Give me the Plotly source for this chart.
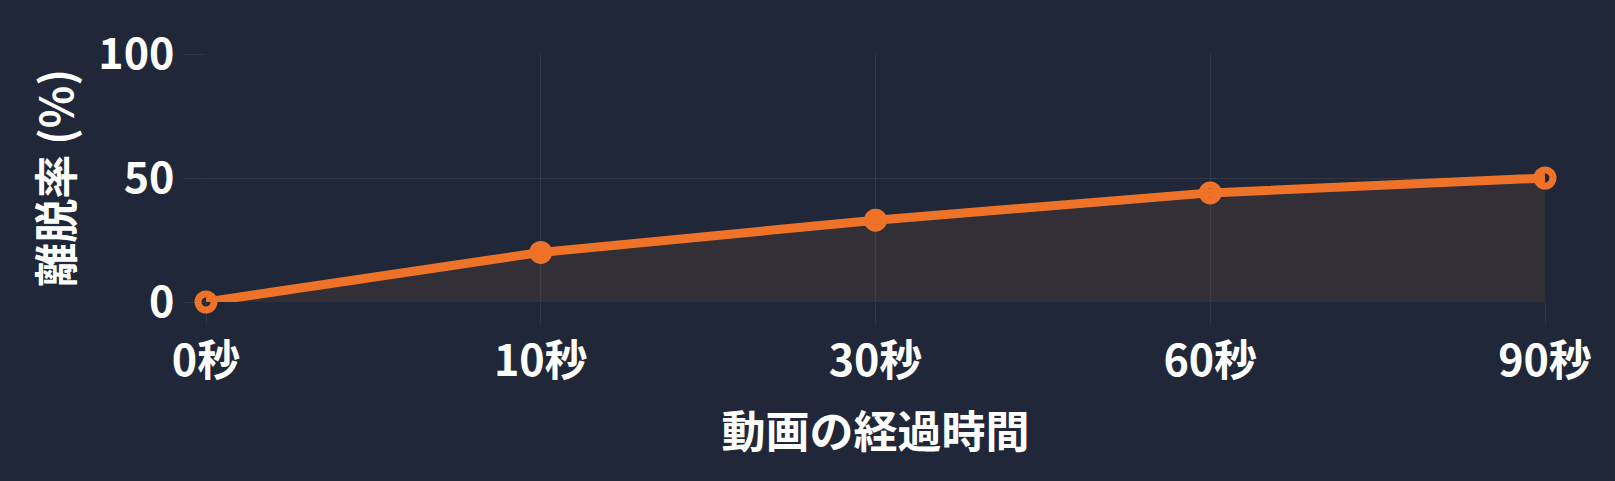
import plotly.graph_objects as go

categories = ["0秒", "10秒", "30秒", "60秒", "90秒"]
dropout_rate = [0, 20, 33, 44, 50]
y_ticks = [0, 50, 100]

ORANGE = "#EE7328"
BG = "#1F2738"
GRID = "rgba(255,255,255,0.08)"
FONT = "Noto Sans CJK JP"
W = "bold"

fig = go.Figure()
fig.add_trace(go.Scatter(
    x=categories, y=dropout_rate,
    mode="lines+markers",
    line=dict(color=ORANGE, width=9),
    marker=dict(symbol="circle-open", size=16, color=ORANGE, line=dict(width=7, color=ORANGE)),
    fill="tozeroy", fillcolor="rgba(238,115,40,0.10)",
    cliponaxis=False,
    showlegend=False,
))

fig.update_layout(
    width=1615, height=481,
    paper_bgcolor=BG, plot_bgcolor=BG,
    margin=dict(l=206, r=70, t=54, b=179),
    font=dict(family=FONT, color="#FFFFFF", size=44),
    xaxis=dict(
        type="category", range=[0, 4],
        showgrid=True, gridcolor=GRID, gridwidth=1,
        ticks="outside", ticklen=21, tickcolor=GRID, tickwidth=1,
        tickfont=dict(size=43, family=FONT, weight=W),
        showline=False, zeroline=False,
        title=dict(text="動画の経過時間", font=dict(size=44, family=FONT, weight=W), standoff=30),
    ),
    yaxis=dict(
        range=[0, 100], tickvals=y_ticks,
        showgrid=True, gridcolor=GRID, gridwidth=1,
        ticks="outside", ticklen=21, tickcolor=GRID, tickwidth=1,
        ticklabelstandoff=1,
        tickfont=dict(size=43, family=FONT, weight=W),
        showline=False, zeroline=False,
        title=dict(text="離脱率 (%)", font=dict(size=44, family=FONT, weight=W), standoff=10),
    ),
)

fig.write_html("out.html", config={"displayModeBar": False},
               post_script="document.body.style.margin='0';")
